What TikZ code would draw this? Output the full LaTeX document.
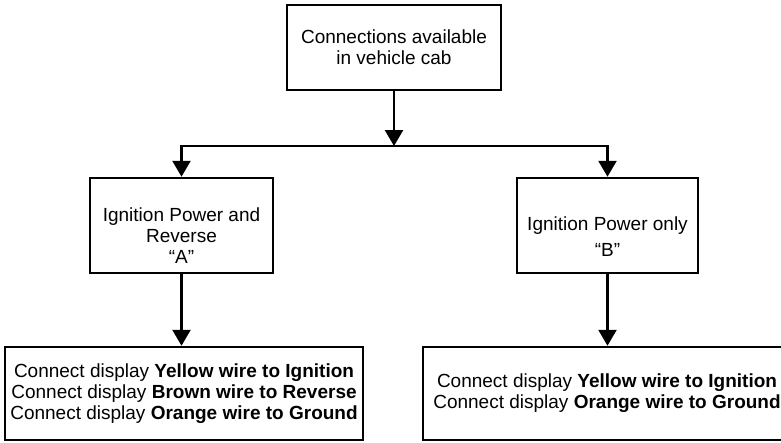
\documentclass[tikz,border=0pt]{standalone}
\usepackage{fontspec}
\setmainfont{Liberation Sans}
\usetikzlibrary{arrows.meta}

\begin{document}
\begin{tikzpicture}[x=1pt,y=-1pt,
  box/.style={draw,line width=2.5pt,align=center,inner sep=0pt,font=\fontsize{19}{21}\selectfont},
  flow/.style={line width=2.5pt,-{Triangle[width=18pt,length=16pt]}}]

\useasboundingbox (0,0) rectangle (781,442);

\node [box,minimum width=214pt,minimum height=85pt] (cab) at (394,47.5) {Connections available\\in vehicle cab};
\coordinate (split) at (394,146);

\node [box,minimum width=183pt,minimum height=95pt] (ignA) at (181.5,225.5) {\rule{0pt}{33pt}Ignition Power and\\Reverse\\“A”};
\node [box,minimum width=181pt,minimum height=95pt] (ignB) at (607.5,225.5) {\rule{0pt}{36pt}Ignition Power only\\[5pt]“B”};

\node [box,minimum width=358pt,minimum height=93pt] (wiresA) at (184,393.5) {Connect display \textbf{Yellow wire to Ignition}\\Connect display \textbf{Brown wire to Reverse}\\Connect display \textbf{Orange wire to Ground}};
\node [box,minimum width=368pt,minimum height=93pt] (wiresB) at (607,393.5) {Connect display \textbf{Yellow wire to Ignition}\\Connect display \textbf{Orange wire to Ground}};

\draw [flow] (cab) -- (split);
\draw [flow] (split) -| (ignA);
\draw [flow] (split) -| (ignB);
\draw [flow] (ignA) -- (ignA |- wiresA.north);
\draw [flow] (ignB) -- (ignB |- wiresB.north);
\end{tikzpicture}
\end{document}
